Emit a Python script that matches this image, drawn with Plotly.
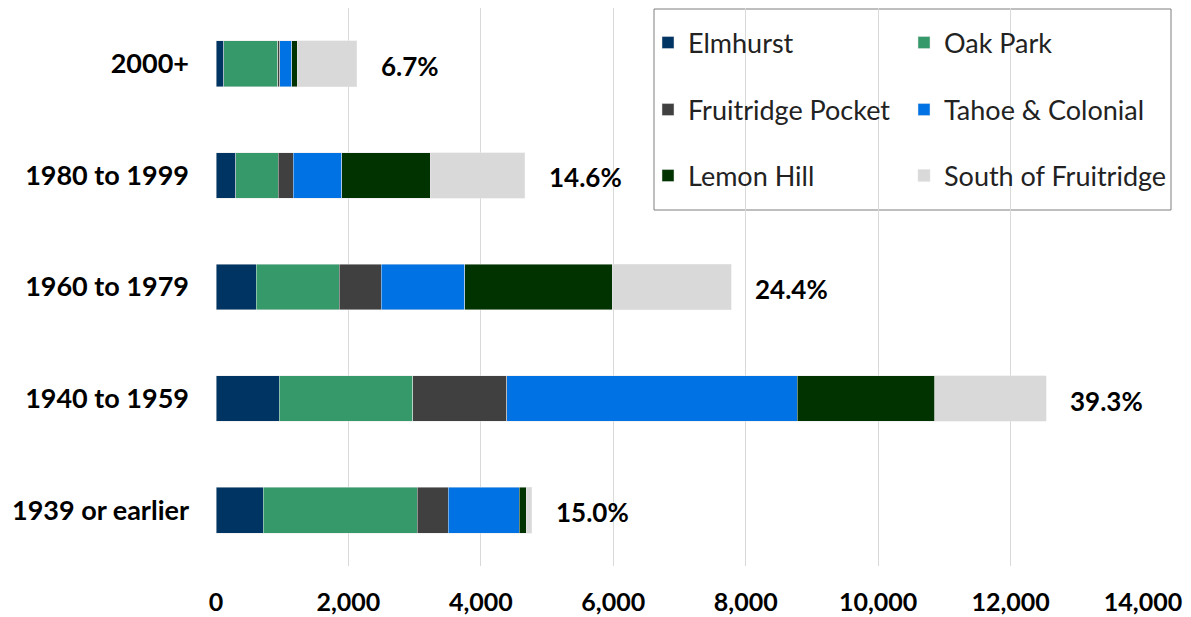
import plotly.graph_objects as go

periods = ['2000+', '1980 to 1999', '1960 to 1979', '1940 to 1959', '1939 or earlier']
areas = ['Elmhurst', 'Oak Park', 'Fruitridge Pocket', 'Tahoe & Colonial', 'Lemon Hill', 'South of Fruitridge']
elmhurst = [116, 298, 611, 954, 711]
oak_park = [818, 645, 1250, 2019, 2325]
fruitridge_pocket = [31, 222, 633, 1418, 469]
tahoe_colonial = [176, 737, 1261, 4385, 1075]
lemon_hill = [86, 1331, 2229, 2077, 105]
south_of_fruitridge = [899, 1427, 1801, 1688, 86]
pct_labels = ['6.7%', '14.6%', '24.4%', '39.3%', '15.0%']

series = [elmhurst, oak_park, fruitridge_pocket, tahoe_colonial, lemon_hill, south_of_fruitridge]
colors = ['#003462', '#35996A', '#404040', '#0072E3', '#003300', '#D9D9D9']

# page body has an 8px margin, so the figure is drawn 8px in from the corner
OFF = 8
W, H = 1191 - OFF, 617 - OFF
ml, mr, mt, mb = 216 - OFF, 48, 0, 51
pw, ph = W - ml - mr, H - mt - mb

def px_x(x):
    return (x - OFF - ml) / pw

def px_y(y):
    return (H - mb - (y - OFF)) / ph

FONT = 'Lato'

fig = go.Figure()
# legend slots (page px) for each area
slots = [(648, 43), (904, 43), (648, 110), (904, 110), (648, 176), (904, 176)]
for i, (name, vals) in enumerate(zip(areas, series)):
    lg = 'legend' if i == 0 else 'legend%d' % (i + 1)
    fig.add_trace(go.Bar(y=periods, x=vals, name=name, orientation='h',
                         marker=dict(color=colors[i], line=dict(color='rgba(230,230,230,0.7)', width=0.7)),
                         width=0.41, legend=lg, showlegend=True))
    fig.update_layout({lg: dict(x=px_x(slots[i][0]), y=px_y(slots[i][1]), xanchor='left', yanchor='middle',
                                bgcolor='rgba(0,0,0,0)', borderwidth=0,
                                font=dict(family=FONT, size=27, color='#222'))})

totals = [sum(v) for v in zip(*series)]
for p, t, lab in zip(periods, totals, pct_labels):
    fig.add_annotation(x=t, y=p, text='<b>%s</b>' % lab, showarrow=False, xanchor='left',
                       xshift=22, yshift=-2, font=dict(family=FONT, size=26, color='black'))

# legend frame
fig.add_shape(type='rect', xref='paper', yref='paper', x0=px_x(654), x1=px_x(1171),
              y0=px_y(210), y1=px_y(9), line=dict(color='#7f7f7f', width=1), fillcolor='white', layer='below')

fig.update_layout(
    barmode='stack', width=W, height=H, showlegend=True, separators='.,',
    margin=dict(l=ml, r=mr, t=mt, b=mb, autoexpand=False),
    plot_bgcolor='white', paper_bgcolor='white',
    font=dict(family=FONT, size=23, color='black'),
    xaxis=dict(range=[0, 14000], dtick=2000, tickformat=',', showgrid=True, gridcolor='#d9d9d9',
               gridwidth=1, zeroline=False, showline=False, ticklabelstandoff=19, automargin=False,
               tickfont=dict(family=FONT, size=25, color='black', weight='bold')),
    yaxis=dict(categoryorder='array', categoryarray=periods[::-1], showgrid=False, zeroline=False,
               ticklabelstandoff=26, automargin=False,
               tickfont=dict(family=FONT, size=27, color='black', weight='bold')),
)

fig.write_html('out.html')
